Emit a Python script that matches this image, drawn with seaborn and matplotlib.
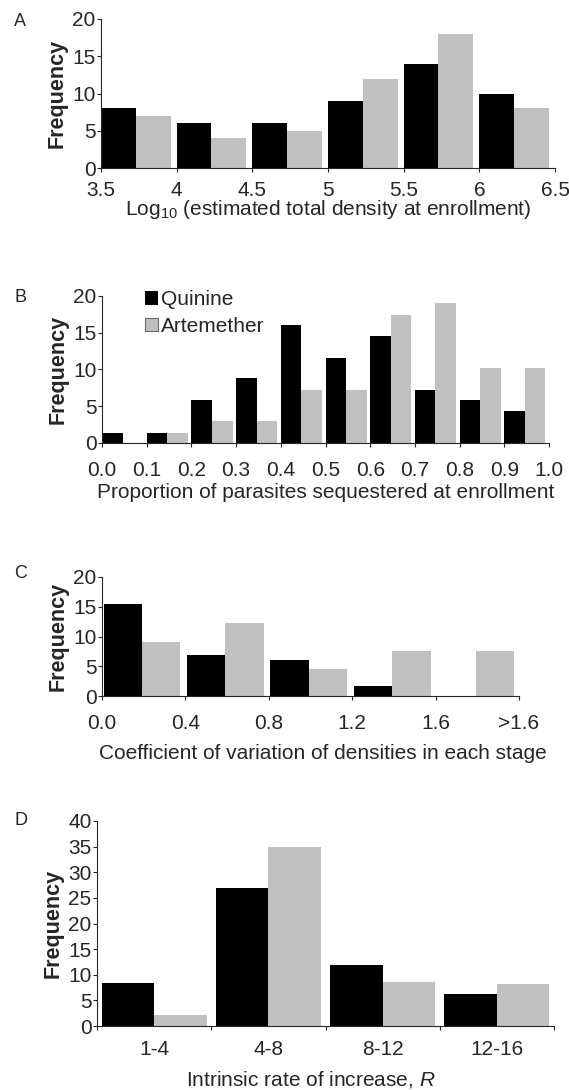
import pandas as pd
import matplotlib
matplotlib.use("Agg")
import matplotlib.pyplot as plt
import seaborn as sns

# data
drugs = ["Quinine", "Artemether"]

a_bins = ["3.5", "4", "4.5", "5", "5.5", "6"]
a_ticks = ["3.5", "4", "4.5", "5", "5.5", "6", "6.5"]
a_quinine = [8, 6, 6, 9, 14, 10]
a_artemether = [7, 4, 5, 12, 18, 8]

b_bins = ["0.0", "0.1", "0.2", "0.3", "0.4", "0.5", "0.6", "0.7", "0.8", "0.9"]
b_ticks = ["0.0", "0.1", "0.2", "0.3", "0.4", "0.5", "0.6", "0.7", "0.8", "0.9", "1.0"]
b_quinine = [1.4, 1.4, 5.8, 8.8, 16.0, 11.6, 14.6, 7.2, 5.8, 4.4]
b_artemether = [0, 1.4, 3.0, 3.0, 7.2, 7.2, 17.4, 19.0, 10.2, 10.2]

c_bins = ["0.0", "0.4", "0.8", "1.2", "1.6"]
c_ticks = ["0.0", "0.4", "0.8", "1.2", "1.6", ">1.6"]
c_quinine = [15.4, 6.9, 6.1, 1.6, 0]
c_artemether = [9.1, 12.3, 4.6, 7.6, 7.6]

d_bins = ["1-4", "4-8", "8-12", "12-16"]
d_quinine = [8.3, 27.0, 12.0, 6.2]
d_artemether = [2.1, 35.0, 8.5, 8.1]

sns.set_style("ticks")
plt.rcParams["font.family"] = ["Liberation Sans", "DejaVu Sans"]
plt.rcParams["mathtext.fontset"] = "custom"
plt.rcParams["mathtext.rm"] = "Liberation Sans"
plt.rcParams["mathtext.it"] = "Liberation Sans:italic"

palette = {"Quinine": "black", "Artemether": "#c0c0c0"}
W = 0.92
TICK_FS = 15
LABEL_FS = 15


def make_df(bins, q, a):
    rows = []
    for b, v1, v2 in zip(bins, q, a):
        rows.append({"bin": b, "drug": "Quinine", "freq": v1})
        rows.append({"bin": b, "drug": "Artemether", "freq": v2})
    return pd.DataFrame(rows)


def draw(ax, bins, q, a, ymax, ystep, xpad):
    df = make_df(bins, q, a)
    sns.barplot(data=df, x="bin", y="freq", hue="drug", hue_order=drugs,
                palette=palette, width=W, errorbar=None, linewidth=0,
                saturation=1, ax=ax, legend=True)
    ax.set_ylim(0, ymax)
    ax.set_yticks(range(0, ymax + 1, ystep))
    ax.set_ylabel("Frequency", fontsize=15.5, fontweight="bold", labelpad=3)
    sns.despine(ax=ax)
    ax.tick_params(axis="both", labelsize=TICK_FS, length=3, width=0.8)
    ax.tick_params(axis="y", pad=1)
    ax.tick_params(axis="x", pad=xpad)
    for s in ax.spines.values():
        s.set_linewidth(0.8)


def edge_ticks(ax, labels, offset=0.0):
    n = len(labels) - 1
    pos = [k - W / 2 - offset for k in range(n + 1)]
    ax.set_xlim(pos[0], pos[-1])
    ax.set_xticks(pos)
    ax.set_xticklabels(labels)


fig = plt.figure(figsize=(5.69, 10.90), dpi=100)
H = 1090.0
Wd = 569.0


def add_axes(left, right, top, bottom):
    return fig.add_axes([left / Wd, 1 - bottom / H, (right - left) / Wd, (bottom - top) / H])


# A
ax = add_axes(101, 555, 19, 168)
draw(ax, a_bins, a_quinine, a_artemether, 20, 5, xpad=6)
edge_ticks(ax, a_ticks)
ax.set_xlabel("Log$_{10}$ (estimated total density at enrollment)", fontsize=LABEL_FS, labelpad=-1)
ax.get_legend().remove()

# B
ax = add_axes(102, 549, 296, 443)
draw(ax, b_bins, b_quinine, b_artemether, 20, 5, xpad=10)
edge_ticks(ax, b_ticks)
ax.set_xlabel("Proportion of parasites sequestered at enrollment", fontsize=LABEL_FS, labelpad=2)
handles, labels = ax.get_legend_handles_labels()
ax.get_legend().remove()
handles[1].set_edgecolor("#666666")
handles[1].set_linewidth(0.8)
ax.legend(handles, labels, loc="upper left", bbox_to_anchor=(0.072, 1.11),
          frameon=False, fontsize=LABEL_FS, handlelength=0.62, handleheight=0.6,
          handletextpad=0.15, labelspacing=0.35, borderpad=0)

# C
ax = add_axes(102, 519, 577, 696)
draw(ax, c_bins, c_quinine, c_artemether, 20, 5, xpad=10)
edge_ticks(ax, c_ticks, offset=0.02)
ax.set_xlabel("Coefficient of variation of densities in each stage", fontsize=LABEL_FS)
ax.xaxis.set_label_coords(0.53, -0.40)
ax.get_legend().remove()

# D
ax = add_axes(97, 554, 821, 1026)
draw(ax, d_bins, d_quinine, d_artemether, 40, 5, xpad=10)
n = len(d_bins)
ax.set_xlim(-0.5, n - 0.5)
ax.set_xticks(range(n))
ax.set_xticks([k - 0.5 for k in range(n + 1)], minor=True)
ax.tick_params(axis="x", which="major", length=0)
ax.tick_params(axis="x", which="minor", length=3, width=0.8)
ax.set_xlabel("Intrinsic rate of increase, $\\mathit{R}$", fontsize=LABEL_FS)
ax.xaxis.set_label_coords(0.468, -0.21)
ax.get_legend().remove()

for letter, y in zip(["A", "B", "C", "D"], [13, 289, 565, 812]):
    fig.text(14 / Wd, 1 - y / H, letter, fontsize=13, va="top", ha="left")

fig.savefig("out.png", dpi=100)
